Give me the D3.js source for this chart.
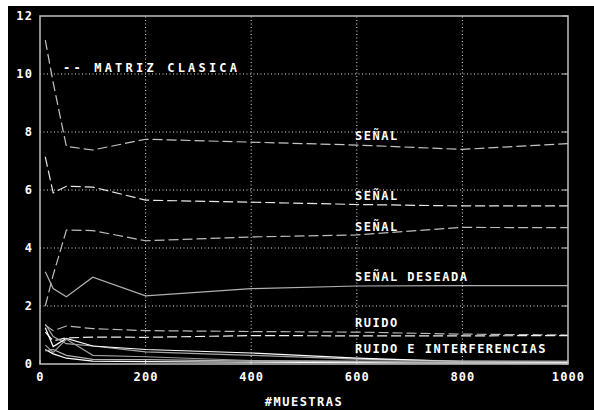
<!DOCTYPE html>
<html>
<head>
<meta charset="utf-8">
<script src="https://cdn.jsdelivr.net/npm/d3@7"></script>
<style>
  body { margin: 0; background: #fff; }
  text { font-family: "DejaVu Sans Mono", monospace; font-weight: bold; fill: #fff; }
</style>
</head>
<body>
<div id="chart"></div>
<script>
const width = 594, height = 410;
const margins = { top: 16, right: 26, bottom: 46, left: 40 };

// sample counts
const muestras = [10, 25, 50, 100, 200, 400, 600, 800, 1000];
const xTicks = [0, 200, 400, 600, 800, 1000];
const yTicks = [0, 2, 4, 6, 8, 10, 12];

// upper curves
const senal1 = [11.17, 9.7, 7.5, 7.38, 7.75, 7.65, 7.55, 7.4, 7.6];
const senal2 = [7.14, 5.9, 6.13, 6.1, 5.65, 5.58, 5.5, 5.45, 5.45];
const senal3 = [2.0, 3.07, 4.62, 4.6, 4.25, 4.38, 4.45, 4.71, 4.7];
const senalDeseada = [3.18, 2.6, 2.32, 2.99, 2.35, 2.6, 2.69, 2.7, 2.7];

// noise cluster
const ruido1 = [1.34, 1.15, 1.31, 1.22, 1.15, 1.12, 1.1, 1.03, 1.0];
const ruido2 = [1.1, 0.8, 0.9, 0.93, 0.92, 0.98, 0.97, 0.97, 0.98];
const interf1 = [1.38, 0.95, 0.7, 0.62, 0.42, 0.3, 0.17, 0.1, 0.08];
const interf2 = [1.25, 0.6, 0.88, 0.62, 0.5, 0.38, 0.2, 0.08, 0.05];
const interf3 = [0.65, 0.4, 0.85, 0.3, 0.25, 0.12, 0.1, 0.1, 0.1];
const interf4 = [0.5, 0.35, 0.2, 0.1, 0.08, 0.06, 0.05, 0.04, 0.04];
const interf5 = [0.45, 0.5, 0.3, 0.16, 0.15, 0.1, 0.08, 0.04, 0.02];

const series = [
  { values: senal1, color: "#c4c4c4", dash: "10,4" },
  { values: senal2, color: "#e8e8e8", dash: "10,4" },
  { values: senal3, color: "#bdbdbd", dash: "10,4" },
  { values: senalDeseada, color: "#b0b0b0", dash: null },
  { values: ruido1, color: "#b8b8b8", dash: "10,4" },
  { values: ruido2, color: "#f0f0f0", dash: "10,4" },
  { values: interf1, color: "#a8a8a8", dash: null },
  { values: interf2, color: "#ffffff", dash: null },
  { values: interf3, color: "#9c9c9c", dash: null },
  { values: interf4, color: "#ffffff", dash: null },
  { values: interf5, color: "#b4b4b4", dash: null }
];

const labels = [
  { text: "--  MATRIZ CLASICA", x: 63, y: 72, spacing: 3.2 },
  { text: "SEÑAL", x: 355, y: 140, spacing: 1.5 },
  { text: "SEÑAL", x: 355, y: 200, spacing: 1.5 },
  { text: "SEÑAL", x: 355, y: 231, spacing: 1.5 },
  { text: "SEÑAL DESEADA", x: 355, y: 281, spacing: 1.5 },
  { text: "RUIDO", x: 355, y: 327, spacing: 1.5 },
  { text: "RUIDO E INTERFERENCIAS", x: 355, y: 353, spacing: 1.5 }
];

const svg = d3.select("#chart")
    .append("svg")
    .attr("width", width)
    .attr("height", height);

svg.append("rect")
    .attr("x", 8).attr("y", 6)
    .attr("width", width - 8).attr("height", height - 6)
    .attr("fill", "#000");

const x = d3.scaleLinear().domain([0, 1000]).range([margins.left, width - margins.right]);
const y = d3.scaleLinear().domain([0, 12]).range([height - margins.bottom, margins.top]);

// dotted grid
svg.append("g").selectAll("line")
    .data(yTicks.slice(1, -1))
    .join("line")
    .attr("x1", x(0)).attr("x2", x(1000))
    .attr("y1", d => y(d)).attr("y2", d => y(d))
    .attr("stroke", "#e0e0e0").attr("stroke-dasharray", "1,2.5");

svg.append("g").selectAll("line")
    .data(xTicks.slice(1, -1))
    .join("line")
    .attr("x1", d => x(d)).attr("x2", d => x(d))
    .attr("y1", y(0)).attr("y2", y(12))
    .attr("stroke", "#e0e0e0").attr("stroke-dasharray", "1,2.5");

// inner ticks on right and bottom
svg.append("g").selectAll("line")
    .data(yTicks)
    .join("line")
    .attr("x1", x(1000) - 6).attr("x2", x(1000))
    .attr("y1", d => y(d)).attr("y2", d => y(d))
    .attr("stroke", "#c8c8c8");

svg.append("g").selectAll("line")
    .data(xTicks)
    .join("line")
    .attr("x1", d => x(d)).attr("x2", d => x(d))
    .attr("y1", y(0) - 4).attr("y2", y(0))
    .attr("stroke", "#c8c8c8");

// curves
const line = d3.line()
    .x((d, i) => x(muestras[i]))
    .y(d => y(d));

svg.append("g").selectAll("path")
    .data(series)
    .join("path")
    .attr("d", d => line(d.values))
    .attr("fill", "none")
    .attr("stroke", d => d.color)
    .attr("stroke-width", 1.2)
    .attr("stroke-dasharray", d => d.dash);

// frame
svg.append("rect")
    .attr("x", x(0)).attr("y", y(12))
    .attr("width", x(1000) - x(0)).attr("height", y(0) - y(12))
    .attr("fill", "none")
    .attr("stroke", "#c0c0c0")
    .attr("stroke-width", 1.5);

// axes labels
const yAxis = svg.append("g")
    .attr("transform", `translate(${x(0)},0)`)
    .call(d3.axisLeft(y).tickValues(yTicks).tickSize(0).tickPadding(7).tickFormat(d3.format("d")));
const xAxis = svg.append("g")
    .attr("transform", `translate(0,${y(0)})`)
    .call(d3.axisBottom(x).tickValues(xTicks).tickSize(0).tickPadding(8).tickFormat(d3.format("d")));

[yAxis, xAxis].forEach(g => {
  g.select(".domain").remove();
  g.selectAll("text")
    .attr("fill", "#fff")
    .style("font-size", "12px")
    .style("font-family", "'DejaVu Sans Mono', monospace")
    .style("font-weight", "bold")
    .style("letter-spacing", "1.1px");
});

svg.append("text")
    .attr("x", 304).attr("y", 406)
    .attr("text-anchor", "middle")
    .style("font-size", "12px")
    .style("letter-spacing", "1.5px")
    .text("#MUESTRAS");

svg.append("g").selectAll("text")
    .data(labels)
    .join("text")
    .attr("x", d => d.x).attr("y", d => d.y)
    .style("font-size", "12px")
    .style("letter-spacing", d => d.spacing + "px")
    .text(d => d.text);
</script>
</body>
</html>
